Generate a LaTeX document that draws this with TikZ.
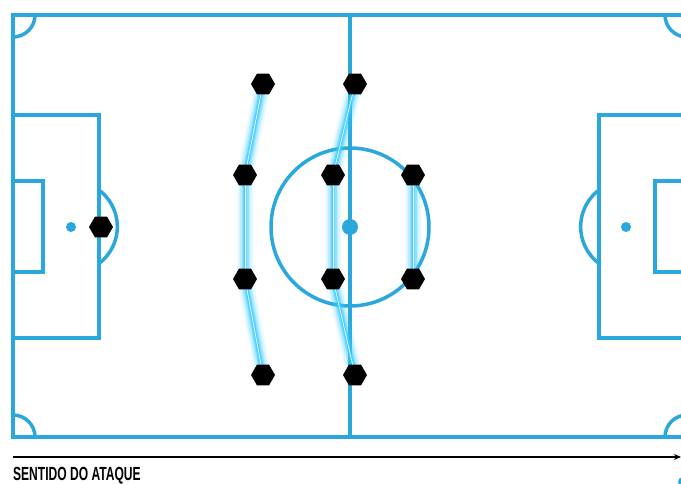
\documentclass[tikz,border=0pt]{standalone}
\usepackage{fontspec}
\setmainfont{Liberation Sans}
\usetikzlibrary{arrows.meta,shapes.geometric}
\definecolor{pitchblue}{HTML}{2AA7DD}
\definecolor{glowcyan}{HTML}{36CCFF}
\pgfdeclarelayer{pitch}
\pgfdeclarelayer{glow}
\pgfsetlayers{pitch,glow,main}

\begin{document}
\begin{tikzpicture}[x=1pt,y=-1pt,
pitchline/.style={draw=pitchblue,line width=3.5pt},
spot/.style={fill=pitchblue},
player/.style={regular polygon,regular polygon sides=6,fill=black,
minimum size=24pt,inner sep=0pt},
arr/.style={-{Stealth[length=7pt,width=6pt]},line width=2.2pt}
]
\useasboundingbox (0,0) rectangle (681,484);
\clip (0,0) rectangle (681,484);

% pitch
\begin{pgfonlayer}{pitch}
\fill[white] (0,0) rectangle (681,484);
\draw[pitchline] (13,15) rectangle (687,437);
\draw[pitchline] (350,15) -- (350,437);
\draw[pitchline] (350,227) circle (79);
\fill[spot] (350,227) circle (8);
% left side
\draw[pitchline] (13,115) rectangle (99,338);
\draw[pitchline] (13,181) rectangle (43,272);
\fill[spot] (71,227) circle (5);
\draw[pitchline] (99,190) arc[start angle=-53,end angle=53,radius=46];
% right side
\draw[pitchline] (687,115) -| (599,338) -- (687,338);
\draw[pitchline] (687,181) -| (655,272) -- (687,272);
\fill[spot] (626,227) circle (5);
\draw[pitchline] (599,190) arc[start angle=233,end angle=127,radius=46];
% corners
\draw[pitchline] (13,37) arc[start angle=90,end angle=0,radius=22];
\draw[pitchline] (13,415) arc[start angle=-90,end angle=0,radius=22];
\draw[pitchline] (665,15) arc[start angle=180,end angle=90,radius=22];
\draw[pitchline] (665,437) arc[start angle=180,end angle=270,radius=22];
\end{pgfonlayer}

% players
\node[player] (gk) at (101,227) {};
\node[player] (d1) at (263,84) {};
\node[player] (d2) at (245,175) {};
\node[player] (d3) at (245,279) {};
\node[player] (d4) at (263,375) {};
\node[player] (m1) at (355,84) {};
\node[player] (m2) at (333,175) {};
\node[player] (m3) at (333,279) {};
\node[player] (m4) at (355,375) {};
\node[player] (f1) at (413,175) {};
\node[player] (f2) at (413,279) {};

% glow links
\begin{pgfonlayer}{glow}
\foreach \a/\b in {d1/d2,d2/d3,d3/d4,m1/m2,m2/m3,m3/m4,f1/f2}{
\foreach \w/\o in {17/.08,13/.12,10/.18,7/.3,4.5/.5,2.5/.7}
\draw[glowcyan,line width=\w pt,opacity=\o,shorten <=7pt,shorten >=7pt]
(\a.center) -- (\b.center);
\draw[white,line width=.7pt,shorten <=6pt,shorten >=6pt] (\a.center) -- (\b.center);
}
\end{pgfonlayer}

% attack direction
\coordinate (as) at (13,457);
\coordinate (ae) at (681,457);
\draw[arr] (as) -- (ae);
\node[anchor=base west,inner sep=0pt,font=\bfseries\fontsize{19}{19}\selectfont,
xscale=.635] (lbl) at (13,480.5) {SENTIDO DO ATAQUE};
\fill[spot] (683,482) circle (5);
\end{tikzpicture}
\end{document}
